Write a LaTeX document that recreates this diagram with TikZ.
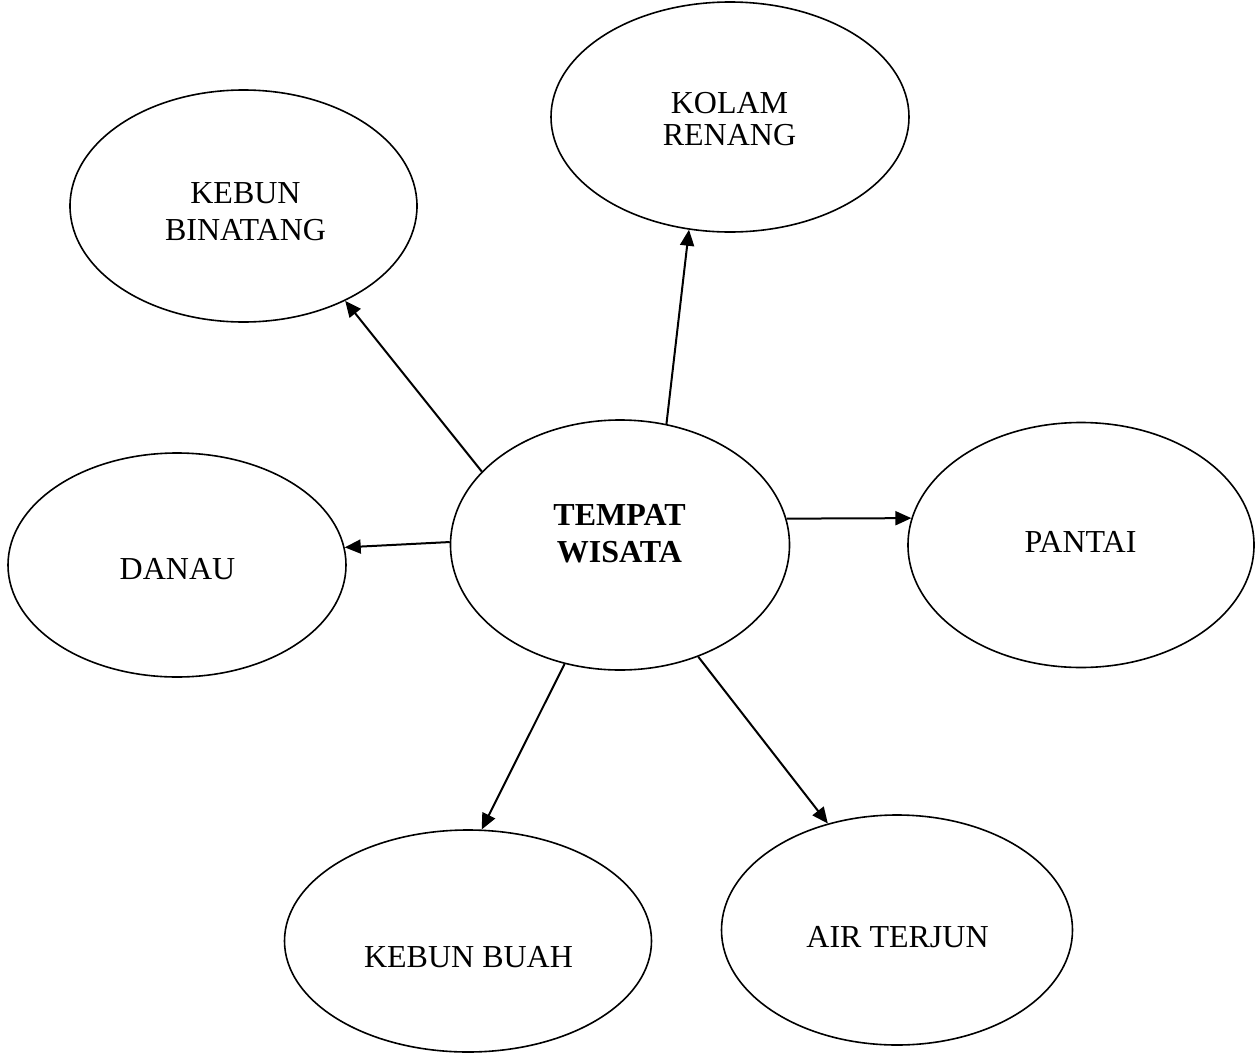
\documentclass[tikz,border=0pt]{standalone}
\usepackage{fontspec}
\setmainfont{Liberation Serif}
\usetikzlibrary{shapes.geometric,arrows.meta}
\begin{document}
\begin{tikzpicture}[x=1pt,y=-1pt,
  bub/.style={ellipse,draw,line width=1.6pt,inner sep=0pt},
  lbl/.style={anchor=base,inner sep=0pt,font=\fontsize{32}{37}\selectfont},
  arr/.style={line width=2pt,-{Triangle[length=16pt,width=14pt]}}]
\useasboundingbox (0,0) rectangle (1256,1055);
\node[bub,minimum width=339pt,minimum height=250pt] (c) at (620,545) {};
\node[bub,minimum width=358pt,minimum height=230pt] (kol) at (730,117) {};
\node[bub,minimum width=347pt,minimum height=232pt] (kb) at (243.5,206) {};
\node[bub,minimum width=338pt,minimum height=224pt] (dan) at (177,565) {};
\node[bub,minimum width=346pt,minimum height=245pt] (pan) at (1081,545) {};
\node[bub,minimum width=367pt,minimum height=222pt] (bua) at (468,941) {};
\node[bub,minimum width=351pt,minimum height=230pt] (air) at (897,930) {};
% labels
\node[lbl,font=\fontsize{32}{37}\selectfont\bfseries] (t1) at (619.5,525) {TEMPAT};
\node[lbl,font=\fontsize{32}{37}\selectfont\bfseries] (t2) at (619.5,562) {WISATA};
\node[lbl] (k1) at (729.5,113.3) {KOLAM};
\node[lbl] (k2) at (729.5,145.7) {RENANG};
\node[lbl] (b1) at (245.5,203.3) {KEBUN};
\node[lbl] (b2) at (245.5,240) {BINATANG};
\node[lbl] (d1) at (177.5,579) {DANAU};
\node[lbl] (p1) at (1080.5,552) {PANTAI};
\node[lbl] (u1) at (468.5,967) {KEBUN BUAH};
\node[lbl] (a1) at (897.5,947) {AIR TERJUN};
% connectors
\draw[arr] (c.69.4) -- (kol.250);
\draw[arr] (c.152.2) -- (kb.-43.1);
\draw[arr] (c.179.3) -- (dan.6.4);
\draw[arr] (c.9) -- (pan.171.1);
\draw[arr] (c.245.6) -- (bua.83.8);
\draw[arr] (c.-55.2) -- (air.123);
\end{tikzpicture}
\end{document}
